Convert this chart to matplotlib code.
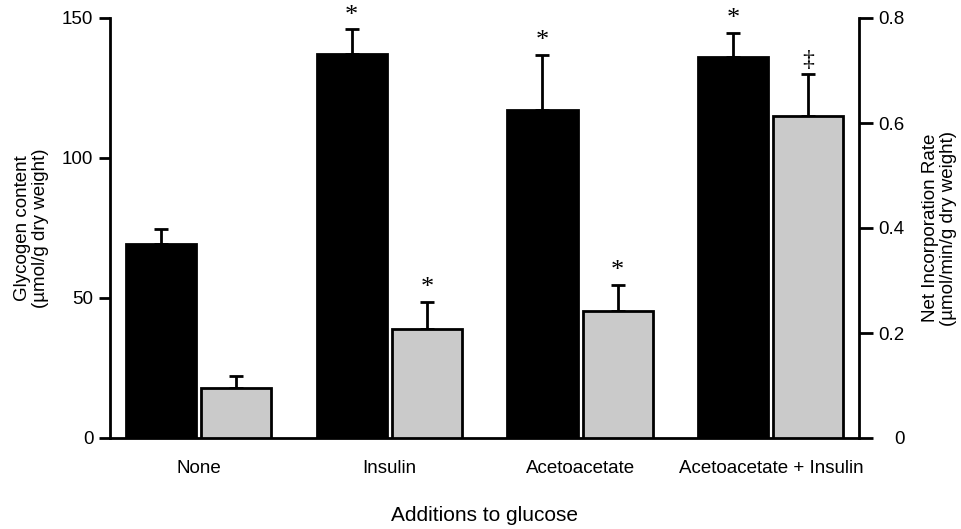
import matplotlib
matplotlib.use('Agg')
import matplotlib.pyplot as plt
import numpy as np

plt.rcParams['font.family'] = ['Liberation Sans', 'DejaVu Sans']

categories = ['None', 'Insulin', 'Acetoacetate', 'Acetoacetate + Insulin']
glycogen = [69.2, 137.3, 117.3, 135.9]
glycogen_err = [5.6, 8.6, 19.4, 8.9]
rate = [0.095, 0.208, 0.242, 0.614]
rate_err = [0.024, 0.051, 0.050, 0.079]
glycogen_marks = ['', '*', '*', '*']
rate_marks = ['', '*', '*', '\u2021']

fs = 13.5
lw = 2.0

fig = plt.figure(figsize=(9.61, 5.29), dpi=100)
ax = fig.add_axes([110 / 961, 91 / 529, 749 / 961, 420 / 529])
ax2 = ax.twinx()

x = np.arange(len(categories))
w = 0.367
off = 0.197

ax.bar(x - off, glycogen, w, color='black', edgecolor='black', linewidth=lw, zorder=2)
ax.errorbar(x - off, glycogen, yerr=[np.zeros(4), glycogen_err], fmt='none',
            ecolor='black', elinewidth=lw, capsize=5, capthick=lw, zorder=1)
ax2.bar(x + off, rate, w, color='#cacaca', edgecolor='black', linewidth=lw, zorder=2)
ax2.errorbar(x + off, rate, yerr=[np.zeros(4), rate_err], fmt='none',
             ecolor='black', elinewidth=lw, capsize=5, capthick=lw, zorder=1)

for xi, v, e, m in zip(x - off, glycogen, glycogen_err, glycogen_marks):
    if m:
        ax.annotate(m, (xi, v + e), xytext=(0, 2), textcoords='offset points',
                    ha='center', va='bottom', fontsize=19, family='Liberation Serif')
for xi, v, e, m in zip(x + off, rate, rate_err, rate_marks):
    if m:
        ax2.annotate(m, (xi, v + e), xytext=(0, 2), textcoords='offset points',
                     ha='center', va='bottom', fontsize=19 if m == '*' else 17,
                     family='Liberation Serif')

ax.set_xlim(-0.464, 3.462)
ax.set_ylim(0, 150)
ax2.set_ylim(0, 0.8)
ax.set_yticks([0, 50, 100, 150])
ax2.set_yticks([0, 0.2, 0.4, 0.6, 0.8])
ax2.set_yticklabels(['0', '0.2', '0.4', '0.6', '0.8'])

ax.set_xticks(x)
ax.set_xticklabels(categories, fontsize=fs)
ax.tick_params(axis='x', length=0, pad=16)
ax.tick_params(axis='y', direction='out', length=8, width=lw, labelsize=fs, pad=4)
ax2.tick_params(axis='y', direction='out', length=10, width=lw, labelsize=fs, pad=23)
for lab in ax2.get_yticklabels():
    lab.set_horizontalalignment('right')

ax.spines['top'].set_visible(False)
ax2.spines['top'].set_visible(False)
ax2.spines['left'].set_visible(False)
ax2.spines['bottom'].set_visible(False)
ax.spines['right'].set_visible(False)
ax.spines['left'].set_linewidth(lw)
ax.spines['bottom'].set_linewidth(lw)
ax2.spines['right'].set_linewidth(lw)

ax.set_ylabel('Glycogen content\n(\u00b5mol/g dry weight)', fontsize=fs, labelpad=9,
              linespacing=1.1)
ax2.set_ylabel('Net Incorporation Rate\n(\u00b5mol/min/g dry weight)', fontsize=fs,
               labelpad=12, linespacing=1.1)
ax.set_xlabel('Additions to glucose', fontsize=15, labelpad=21)

plt.savefig('out.png', dpi=100)
